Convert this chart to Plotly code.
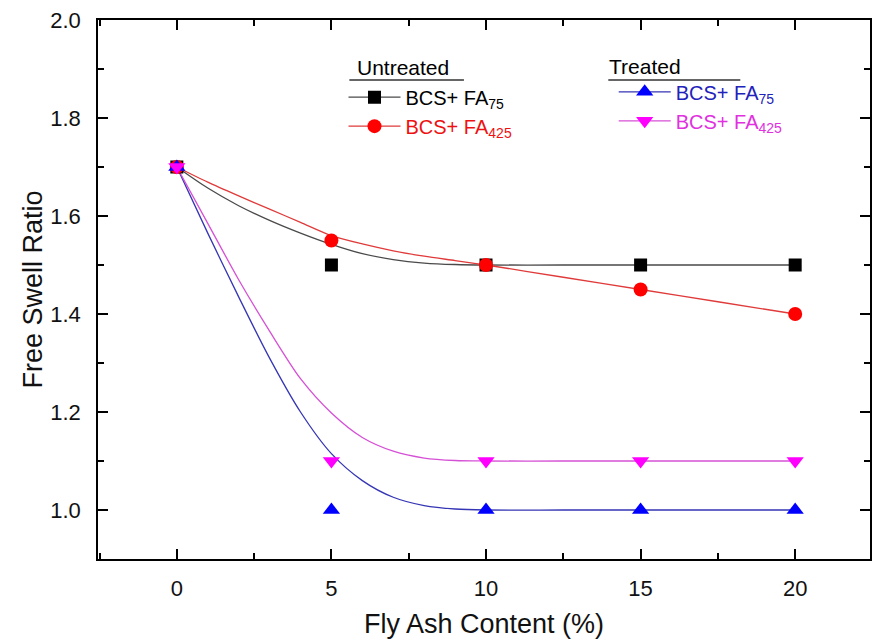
import plotly.graph_objects as go

# Measured free swell ratio at each fly ash content
fly_ash = [0, 5, 10, 15, 20]
untreated_fa75 = [1.70, 1.50, 1.50, 1.50, 1.50]
untreated_fa425 = [1.70, 1.55, 1.50, 1.45, 1.40]
treated_fa75 = [1.70, 1.00, 1.00, 1.00, 1.00]
treated_fa425 = [1.70, 1.10, 1.10, 1.10, 1.10]

# Fitted trend curves (sampled)
fit_x = [0, 1, 2, 3, 4, 5, 6, 7, 8, 9, 10, 12.5, 15, 17.5, 20]
fit_untreated_fa75 = [1.700, 1.657, 1.621, 1.591, 1.565, 1.542, 1.523, 1.511, 1.504, 1.501, 1.500, 1.500, 1.500, 1.500, 1.500]
fit_untreated_fa425 = [1.700, 1.669, 1.641, 1.614, 1.587, 1.560, 1.543, 1.529, 1.518, 1.509, 1.500, 1.475, 1.450, 1.425, 1.400]
fit_treated_fa75 = [1.700, 1.565, 1.435, 1.310, 1.200, 1.115, 1.060, 1.026, 1.009, 1.002, 1.000, 1.000, 1.000, 1.000, 1.000]
fit_treated_fa425 = [1.700, 1.585, 1.470, 1.365, 1.268, 1.198, 1.148, 1.120, 1.106, 1.101, 1.100, 1.100, 1.100, 1.100, 1.100]

x_ticks = [0, 5, 10, 15, 20]
y_ticks = [1.0, 1.2, 1.4, 1.6, 1.8, 2.0]

FONT = "Liberation Sans, Arial, sans-serif"

series = [
    dict(name="BCS+ FA<sub>75</sub>", pts=untreated_fa75, fit=fit_untreated_fa75,
         mcolor="#000000", tcolor="#000000", lcolor="#4a4a4a", symbol="square", size=13, legend="legend"),
    dict(name="BCS+ FA<sub>425</sub>", pts=untreated_fa425, fit=fit_untreated_fa425,
         mcolor="#ff0000", tcolor="#ee1111", lcolor="#e03a3a", symbol="circle", size=14, legend="legend"),
    dict(name="BCS+ FA<sub>75</sub>", pts=treated_fa75, fit=fit_treated_fa75,
         mcolor="#0000ff", tcolor="#2222bb", lcolor="#3535b5", symbol="triangle-up", size=15, legend="legend2"),
    dict(name="BCS+ FA<sub>425</sub>", pts=treated_fa425, fit=fit_treated_fa425,
         mcolor="#ff00ff", tcolor="#e030e0", lcolor="#d650d6", symbol="triangle-down", size=15, legend="legend2"),
]

fig = go.Figure()

for s in series:
    fig.add_trace(go.Scatter(
        x=fit_x, y=s["fit"], mode="lines",
        line=dict(color=s["lcolor"], width=1.3, shape="spline", smoothing=0.8),
        showlegend=False, hoverinfo="skip"))

for s in series:
    fig.add_trace(go.Scatter(
        x=fly_ash, y=s["pts"], mode="markers",
        marker=dict(symbol=s["symbol"], size=s["size"], color=s["mcolor"]),
        showlegend=False))

# Legend entries (line + marker samples)
for s in series:
    fig.add_trace(go.Scatter(
        x=[None], y=[None], mode="lines+markers",
        name=f"<span style='color:{s['tcolor']}'>{s['name']}</span>",
        line=dict(color=s["lcolor"], width=1.3),
        marker=dict(symbol=s["symbol"], size=s["size"], color=s["mcolor"]),
        legend=s["legend"]))

axis_common = dict(
    showline=True, linecolor="black", linewidth=1.5, mirror="ticks",
    ticks="inside", ticklen=10, tickwidth=1.5, tickcolor="black",
    showgrid=False, zeroline=False,
    tickfont=dict(family=FONT, size=22, color="#111"),
)

fig.update_xaxes(
    **axis_common, range=[-2.55, 22.42], tickvals=x_ticks,
    minor=dict(ticks="inside", ticklen=6, tickwidth=1.5, tickcolor="black", dtick=2.5, tick0=0),
    ticklabelstandoff=9,
    title=dict(text="Fly Ash Content (%)", font=dict(family=FONT, size=27, color="#111"), standoff=14),
)
fig.update_yaxes(
    **axis_common, range=[0.9, 2.0], tickvals=y_ticks, tickformat=".1f",
    minor=dict(ticks="inside", ticklen=6, tickwidth=1.5, tickcolor="black", dtick=0.1, tick0=0.9),
    ticklabelstandoff=11,
    title=dict(text="Free Swell Ratio", font=dict(family=FONT, size=27, color="#111"), standoff=0),
)

legend_common = dict(
    bgcolor="rgba(0,0,0,0)", borderwidth=0, itemwidth=52,
    font=dict(family=FONT, size=20, color="#000"),
    xanchor="left", yanchor="top", tracegroupgap=0, itemclick=False,
)

fig.update_layout(
    width=872, height=640,
    margin=dict(l=98, r=0, t=20, b=81),
    plot_bgcolor="white", paper_bgcolor="white",
    legend=dict(**legend_common, x=0.318, y=0.893),
    legend2=dict(**legend_common, x=0.668, y=0.903),
    annotations=[
        dict(text="Untreated", xref="paper", yref="paper", x=0.333, y=0.911,
             xanchor="left", yanchor="middle", showarrow=False,
             font=dict(family=FONT, size=21, color="#000")),
        dict(text="Treated", xref="paper", yref="paper", x=0.659, y=0.913,
             xanchor="left", yanchor="middle", showarrow=False,
             font=dict(family=FONT, size=21, color="#000")),
    ],
    shapes=[
        dict(type="line", xref="paper", yref="paper", x0=0.3256, x1=0.474, y0=0.8887, y1=0.8887,
             line=dict(color="#333", width=1.3)),
        dict(type="line", xref="paper", yref="paper", x0=0.661, x1=0.832, y0=0.8887, y1=0.8887,
             line=dict(color="#333", width=1.3)),
    ],
    showlegend=True,
)

fig.write_html("out.html")
